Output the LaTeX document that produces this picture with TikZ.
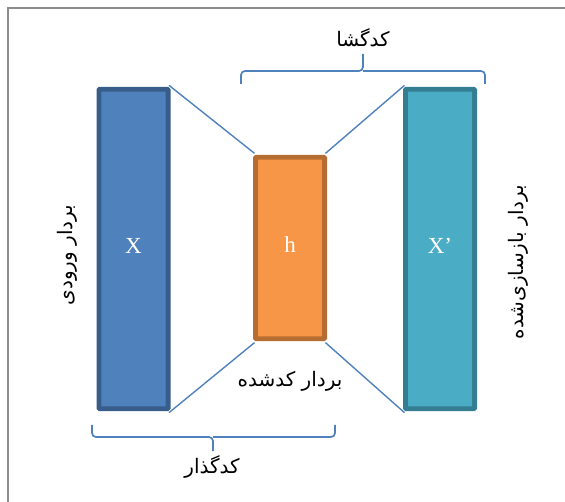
\documentclass[tikz,border=0pt]{standalone}
\usepackage{fontspec}
\setmainfont{Liberation Serif}
\newfontfamily\arabicfont[Script=Arabic]{DejaVu Sans}
\TeXXeTstate=1
\definecolor{xfill}{HTML}{4F81BD}
\definecolor{xdraw}{HTML}{385D8A}
\definecolor{hfill}{HTML}{F79646}
\definecolor{hdraw}{HTML}{B66D31}
\definecolor{rfill}{HTML}{4BACC6}
\definecolor{rdraw}{HTML}{357D91}
\definecolor{linkc}{HTML}{4F81BD}
\definecolor{framec}{HTML}{8C8C8C}
\begin{document}
\begin{tikzpicture}[x=1pt,y=-1pt,
  vec/.style={rectangle,line width=4.8pt,rounded corners=0.8pt,minimum width=69.2pt,text=white,
    font=\fontsize{23}{26}\selectfont},
  link/.style={draw=linkc,line width=1.4pt},
  bracec/.style={draw=linkc,line width=1.7pt,rounded corners=4pt},
  fa/.style={font=\arabicfont\fontsize{20}{24}\selectfont,text=black}]
\useasboundingbox (0,0) rectangle (565,502);
\draw[framec,line width=2.4pt] (8,502) -- (8,8) -- (565,8);
\node[vec,fill=xfill,draw=xdraw,minimum height=319.5pt] (x) at (133.5,249) {\raisebox{7pt}{X}};
\node[vec,fill=hfill,draw=hdraw,minimum height=181.5pt] (h) at (290,248) {\raisebox{7pt}{h}};
\node[vec,fill=rfill,draw=rdraw,minimum height=319.5pt] (xr) at (440,249) {\raisebox{7pt}{X’}};
\draw[link] ([shift={(-1.5pt,1.5pt)}]x.north east) -- ([shift={(1.5pt,1.5pt)}]h.north west);
\draw[link] ([shift={(-1.5pt,-1.5pt)}]x.south east) -- ([shift={(1.5pt,-1.5pt)}]h.south west);
\draw[link] ([shift={(-1.5pt,1.5pt)}]h.north east) -- ([shift={(1.5pt,1.5pt)}]xr.north west);
\draw[link] ([shift={(-1.5pt,-1.5pt)}]h.south east) -- ([shift={(1.5pt,-1.5pt)}]xr.south west);
% top brace (decoder)
\coordinate (tl) at (241,84);
\coordinate (tr) at (485,84);
\coordinate (tt) at (363,58);
\draw[bracec] (tl) -- (241,71) -- (363,71) |- (tt);
\draw[bracec] (tr) -- (485,71) -- (363,71);
\node[fa] (dec) at (363,38) {\beginR کدگشا\endR};
% bottom brace (encoder)
\coordinate (bl) at (92,425);
\coordinate (br) at (335,425);
\coordinate (bt) at (213,451);
\draw[bracec] (bl) -- (92,437) -- (213,437) -- (bt);
\draw[bracec] (br) -- (335,437) -- (213,437);
\node[fa] (enc) at (212,467) {\beginR کدگذار\endR};
\node[fa,rotate=90] (inp) at (67,255) {\beginR بردار ورودی\endR};
\node[fa,rotate=90] (rec) at (518,262) {\beginR بردار بازسازی‌شده\endR};
\node[fa] (code) at (290,381) {\beginR بردار کدشده\endR};
\end{tikzpicture}
\end{document}
